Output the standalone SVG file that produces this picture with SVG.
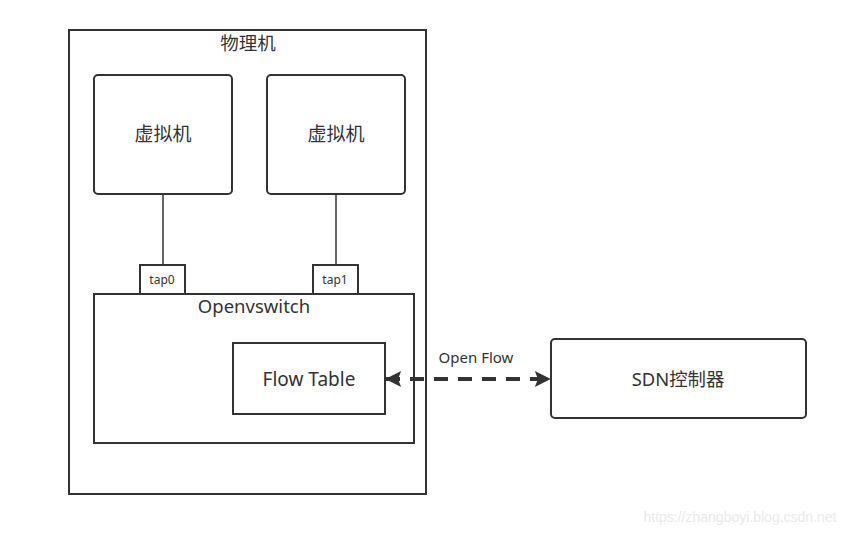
<svg xmlns="http://www.w3.org/2000/svg" width="859" height="535" viewBox="0 0 859 535">
<defs>
<style>
.box{fill:#fff;stroke:#333;stroke-width:2}
.t{font-family:"Noto Sans","Noto Sans CJK SC",sans-serif;fill:#333;text-anchor:middle}
.ln{stroke:#333;stroke-width:1.5;fill:none}
</style>
<marker id="ah" viewBox="0 0 10 10" refX="9.5" refY="5" markerWidth="4.5" markerHeight="4" orient="auto-start-reverse" markerUnits="strokeWidth">
<path d="M0,0 L10,5 L0,10 L2,5 Z" fill="#333"/>
</marker>
</defs>
<rect width="859" height="535" fill="#fff"/>
<g id="host">
<rect class="box" x="69" y="30" width="357" height="464"/>
<text class="t" x="248" y="50" font-size="18.5">物理机</text>
</g>
<g id="vm1">
<rect class="box" x="94" y="75" width="138" height="119" rx="4"/>
<text class="t" x="163" y="141" font-size="19">虚拟机</text>
</g>
<g id="vm2">
<rect class="box" x="267" y="75" width="138" height="119" rx="4"/>
<text class="t" x="336" y="141" font-size="19">虚拟机</text>
</g>
<g id="ovs">
<rect class="box" x="94" y="294" width="320" height="149"/>
<text class="t" x="254" y="313" font-size="18.5">Openvswitch</text>
</g>
<g id="tap0">
<rect class="box" x="140" y="265" width="45" height="29"/>
<text class="t" x="162" y="284" font-size="12" font-family="DejaVu Sans Mono,monospace">tap0</text>
</g>
<g id="tap1">
<rect class="box" x="313" y="265" width="45" height="29"/>
<text class="t" x="335" y="284" font-size="12" font-family="DejaVu Sans Mono,monospace">tap1</text>
</g>
<g id="flowtable">
<rect class="box" x="233" y="343" width="152" height="71"/>
<text class="t" x="309" y="386" font-size="19">Flow Table</text>
</g>
<g id="sdn">
<rect class="box" x="551" y="339" width="255" height="79" rx="4"/>
<text class="t" x="678" y="386" font-size="18.4">SDN控制器</text>
</g>
<g id="connectors">
<line class="ln" x1="163" y1="194" x2="163" y2="265"/>
<line class="ln" x1="336" y1="194" x2="336" y2="265"/>
<line x1="386" y1="379" x2="550" y2="379" stroke="#333" stroke-width="4" stroke-dasharray="14,10" marker-start="url(#ah)" marker-end="url(#ah)"/>
<text class="t" x="476" y="363" font-size="15">Open Flow</text>
</g>
<text x="740" y="522" font-family="Liberation Sans,Arial,sans-serif" font-size="14" fill="#e9e9e9" text-anchor="middle">https://zhangboyi.blog.csdn.net</text>
</svg>
